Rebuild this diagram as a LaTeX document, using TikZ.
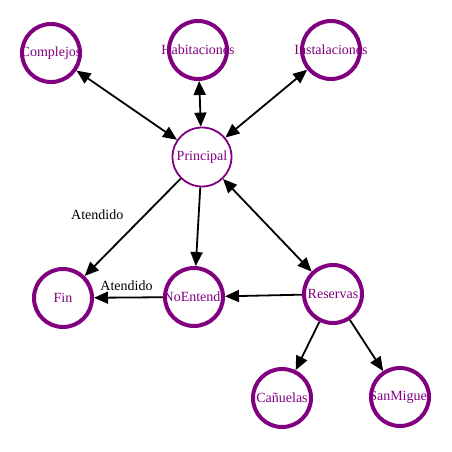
\documentclass[tikz,border=0pt]{standalone}
\usepackage{fontspec}
\setmainfont{Liberation Serif}
\usepackage{xcolor}
\usepackage{tikz}
\usetikzlibrary{arrows.meta}

\definecolor{morado}{RGB}{128,0,128}
\newcommand{\nombre}[1]{\makebox[0pt]{#1}}

\tikzset{
  estado/.style={circle,minimum size=58pt,inner sep=0pt,outer sep=2pt,text=morado,font=\fontsize{14}{14}\selectfont},
  inicial/.style={estado,draw=morado,line width=1.8pt,minimum size=59pt,outer sep=0.9pt},
  borde/.style={draw=morado,line width=4pt},
  flecha/.style={line width=1.8pt,-{Triangle[length=14pt,width=12pt]}},
  doble/.style={line width=1.8pt,{Triangle[length=14pt,width=12pt]}-{Triangle[length=14pt,width=12pt]}},
  etiqueta/.style={font=\fontsize{14}{14}\selectfont,text=black,inner sep=2pt}
}

\begin{document}
\begin{tikzpicture}[x=1pt,y=-1pt]
\useasboundingbox (0,0) rectangle (452,452);

\node[estado] (complejos) at (51,53) {\nombre{Complejos}};
\node[estado] (habitaciones) at (198,50) {\nombre{Habitaciones}};
\node[estado] (instalaciones) at (331,50) {\nombre{Instalaciones}};
\node[inicial] (principal) at (202,157) {Principal};
\node[estado] (fin) at (63,298) {\nombre{Fin}};
\node[estado] (noentendi) at (194,297) {\nombre{NoEntendi}};
\node[estado] (reservas) at (333,294) {\nombre{Reservas}};
\node[estado] (canuelas) at (282,398) {\nombre{Cañuelas}};
\node[estado] (sanmiguel) at (400,397) {\nombre{SanMiguel}};

\draw[doble] (principal) -- (complejos);
\draw[doble] (principal) -- (habitaciones);
\draw[doble] (principal) -- (instalaciones);
\draw[doble] (principal) -- (reservas);
\draw[flecha] (principal) -- node[etiqueta,pos=0.62,xshift=-24pt,yshift=24pt] (atendido1) {Atendido} (fin);
\draw[flecha] (principal) -- (noentendi);
\draw[flecha] (reservas) -- (noentendi);
\draw[flecha] (noentendi) -- node[etiqueta,midway,above,xshift=-2pt,yshift=4pt] (atendido2) {Atendido} (fin);
\draw[flecha] (reservas) -- (canuelas);
\draw[flecha] (reservas) -- (sanmiguel);

% bordes encima del texto
\foreach \n in {complejos,habitaciones,instalaciones,fin,noentendi,reservas,canuelas,sanmiguel}
  \draw[borde] (\n.center) circle[radius=29pt];

\end{tikzpicture}
\end{document}
